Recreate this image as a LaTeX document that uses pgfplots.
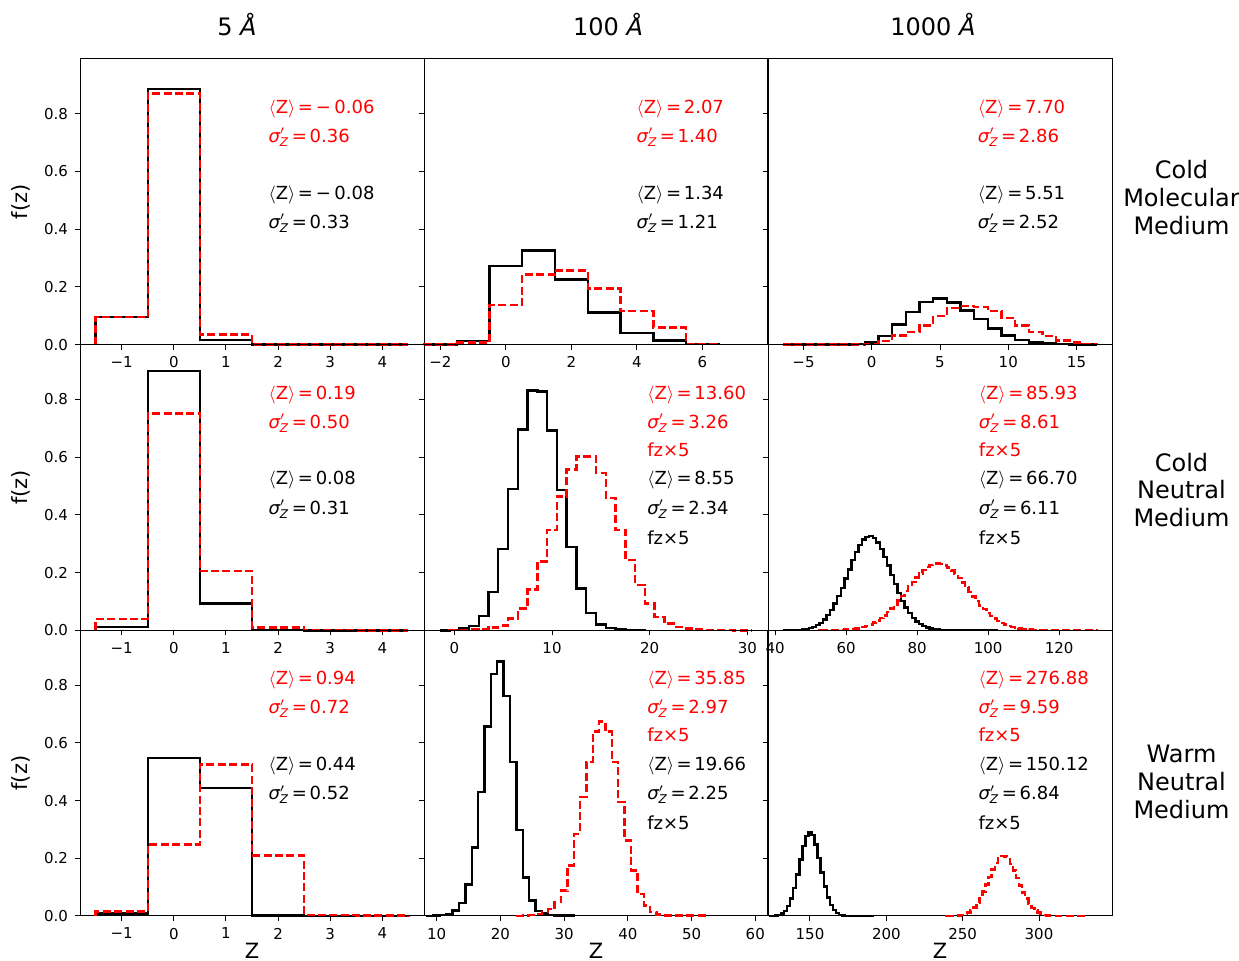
\documentclass[border=0pt]{standalone}
\usepackage{amsmath}
\usepackage{fontspec}
\setmainfont{DejaVu Sans}
\usepackage{pgfplots}
\pgfplotsset{compat=1.18}

\definecolor{mplred}{HTML}{FF0000}

\pgfplotsset{
  panel/.style={
    scale only axis, width=172pt, height=142.83pt, anchor=south west,
    ymin=0, ymax=0.99, ytick={0,0.2,0.4,0.6,0.8}, yticklabels={},
    tick align=outside, tick pos=left, major tick length=2.5pt,
    every tick/.append style={black, line width=0.5pt},
    axis line style={line width=0.5pt},
    tick label style={font=\fontsize{7.5}{9}\selectfont},
    label style={font=\fontsize{10.5}{12}\selectfont},
    xlabel style={at={(axis description cs:0.5,0)}, anchor=base, yshift=-21.5pt, inner sep=0pt},
    clip=false,
  },
  blk/.style={const plot, black, line width=1.2pt, no marks},
  rd/.style={const plot, mplred, line width=1.2pt, no marks, dash pattern=on 4pt off 1.7pt},
  firstcol/.style={yticklabels={0.0,0.2,0.4,0.6,0.8}, ylabel={f(z)},
    xmin=-1.8, xmax=4.8, xtick={-1,0,1,2,3,4}, xticklabels={−1,0,1,2,3,4}},
}
\tikzset{st/.style={anchor=base west, inner sep=0pt, font=\fontsize{9}{10}\selectfont}}
\newcommand{\eqs}{\hspace{0.15em}=\hspace{0.15em}}
\newcommand{\mz}[1]{\(\langle\)Z\(\rangle\)\eqs #1}
\newcommand{\sz}[1]{\(\textit{σ}'_{\textit{Z}}\)\eqs #1}
\newcommand{\mneg}{−\hspace{0.2em}}

\begin{document}
\begin{tikzpicture}

% ---------------- row 1: cold molecular medium ----------------
\begin{axis}[panel, firstcol, at={(40pt,308.16pt)}]
\addplot[blk] coordinates {(-1.5,0)(-1.5,0.095)(-0.5,0.887)(0.5,0.016)(1.5,0.001)(2.5,0)(3.5,0)(4.5,0)};
\addplot[rd] coordinates {(-1.5,0)(-1.5,0.095)(-0.5,0.871)(0.5,0.035)(1.5,0.001)(2.5,0)(3.5,0)(4.5,0)};
\node[st, mplred] at (rel axis cs:0.547,0.809) {\mz{\mneg 0.06}};
\node[st, mplred] at (rel axis cs:0.547,0.708) {\sz{0.36}};
\node[st] at (rel axis cs:0.547,0.509) {\mz{\mneg 0.08}};
\node[st] at (rel axis cs:0.547,0.407) {\sz{0.33}};
\end{axis}

\begin{axis}[panel, at={(212pt,308.16pt)}, xmin=-2.5, xmax=8.0,
  xtick={-2,0,2,4,6}, xticklabels={−2,0,2,4,6}]
\addplot[blk] coordinates {(-2.5,0)(-2.5,0.001)(-1.5,0.012)(-0.5,0.272)(0.5,0.327)(1.5,0.226)(2.5,0.111)(3.5,0.041)(4.5,0.014)(5.5,0.002)(6.5,0)};
\addplot[rd] coordinates {(-2.5,0)(-2.5,0.001)(-1.5,0.007)(-0.5,0.137)(0.5,0.243)(1.5,0.257)(2.5,0.195)(3.5,0.116)(4.5,0.059)(5.5,0.002)(6.5,0)};
\node[st, mplred] at (rel axis cs:0.617,0.809) {\mz{2.07}};
\node[st, mplred] at (rel axis cs:0.617,0.708) {\sz{1.40}};
\node[st] at (rel axis cs:0.617,0.509) {\mz{1.34}};
\node[st] at (rel axis cs:0.617,0.407) {\sz{1.21}};
\end{axis}

\begin{axis}[panel, at={(384pt,308.16pt)}, xmin=-7.6, xmax=17.6,
  xtick={-5,0,5,10,15}, xticklabels={−5,0,5,10,15}]
\addplot[blk] coordinates {(-6.5,0)(-1.5,0.002)(-0.5,0.008)(0.5,0.030)(1.5,0.070)(2.5,0.114)(3.5,0.147)(4.5,0.160)(5.5,0.146)(6.5,0.119)(7.5,0.088)(8.5,0.056)(9.5,0.032)(10.5,0.017)(11.5,0.008)(12.5,0.004)(13.5,0.002)(14.5,0.001)(16.5,0)};
\addplot[rd] coordinates {(-6.5,0)(-0.5,0.002)(0.5,0.012)(1.5,0.032)(2.5,0.044)(3.5,0.067)(4.5,0.100)(5.5,0.128)(6.5,0.134)(7.5,0.131)(8.5,0.116)(9.5,0.093)(10.5,0.067)(11.5,0.044)(12.5,0.029)(13.5,0.015)(14.5,0.008)(15.5,0.003)(16.5,0)};
\node[st, mplred] at (rel axis cs:0.609,0.809) {\mz{7.70}};
\node[st, mplred] at (rel axis cs:0.609,0.708) {\sz{2.86}};
\node[st] at (rel axis cs:0.609,0.509) {\mz{5.51}};
\node[st] at (rel axis cs:0.609,0.407) {\sz{2.52}};
\end{axis}

% ---------------- row 2: cold neutral medium ----------------
\begin{axis}[panel, firstcol, at={(40pt,165.33pt)}]
\addplot[blk] coordinates {(-1.5,0)(-1.5,0.012)(-0.5,0.899)(0.5,0.093)(1.5,0.002)(2.5,0)(3.5,0)(4.5,0)};
\addplot[rd] coordinates {(-1.5,0)(-1.5,0.039)(-0.5,0.752)(0.5,0.205)(1.5,0.010)(2.5,0.001)(3.5,0)(4.5,0)};
\node[st, mplred] at (rel axis cs:0.547,0.809) {\mz{0.19}};
\node[st, mplred] at (rel axis cs:0.547,0.708) {\sz{0.50}};
\node[st] at (rel axis cs:0.547,0.509) {\mz{0.08}};
\node[st] at (rel axis cs:0.547,0.407) {\sz{0.31}};
\end{axis}

\begin{axis}[panel, at={(212pt,165.33pt)}, xmin=-3.1, xmax=32.1,
  xtick={0,10,20,30}, xticklabels={0,10,20,30}]
\addplot[blk] coordinates {(-1.5,0)(-0.5,0.002)(0.5,0.007)(1.5,0.016)(2.5,0.049)(3.5,0.133)(4.5,0.281)(5.5,0.489)(6.5,0.696)(7.5,0.831)(8.5,0.827)(9.5,0.692)(10.5,0.487)(11.5,0.288)(12.5,0.145)(13.5,0.061)(14.5,0.020)(15.5,0.008)(16.5,0.004)(17.5,0.001)(18.5,0.001)(19.5,0)};
\addplot[rd] coordinates {(-0.5,0)(-0.5,0.001)(0.5,0.002)(1.5,0.003)(2.5,0.005)(3.5,0.010)(4.5,0.017)(5.5,0.041)(6.5,0.075)(7.5,0.141)(8.5,0.238)(9.5,0.348)(10.5,0.464)(11.5,0.557)(12.5,0.603)(13.5,0.603)(14.5,0.545)(15.5,0.458)(16.5,0.348)(17.5,0.243)(18.5,0.157)(19.5,0.093)(20.5,0.046)(21.5,0.023)(22.5,0.012)(23.5,0.006)(24.5,0.003)(25.5,0.002)(26.5,0.001)(27.5,0.001)(28.5,0)(30.5,0)};
\node[st, mplred] at (rel axis cs:0.648,0.809) {\mz{13.60}};
\node[st, mplred] at (rel axis cs:0.648,0.708) {\sz{3.26}};
\node[st, mplred] at (rel axis cs:0.648,0.610) {fz×5};
\node[st] at (rel axis cs:0.648,0.509) {\mz{8.55}};
\node[st] at (rel axis cs:0.648,0.407) {\sz{2.34}};
\node[st] at (rel axis cs:0.648,0.302) {fz×5};
\end{axis}

\begin{axis}[panel, at={(384pt,165.33pt)}, xmin=38, xmax=134.9,
  xtick={40,60,80,100,120}, xticklabels={40,60,80,100,120}]
\addplot[blk] coordinates {(42.5,0)(42.5,0.0002)(43.5,0.0003)(44.5,0.0006)(45.5,0.0011)(46.5,0.0018)(47.5,0.0030)(48.5,0.0049)(49.5,0.0078)(50.5,0.0120)(51.5,0.0181)(52.5,0.0264)(53.5,0.0376)(54.5,0.0522)(55.5,0.0705)(56.5,0.0926)(57.5,0.1185)(58.5,0.1476)(59.5,0.1790)(60.5,0.2113)(61.5,0.2429)(62.5,0.2718)(63.5,0.2961)(64.5,0.3141)(65.5,0.3244)(66.5,0.3261)(67.5,0.3192)(68.5,0.3042)(69.5,0.2822)(70.5,0.2549)(71.5,0.2241)(72.5,0.1919)(73.5,0.1599)(74.5,0.1297)(75.5,0.1025)(76.5,0.0788)(77.5,0.0590)(78.5,0.0430)(79.5,0.0305)(80.5,0.0211)(81.5,0.0142)(82.5,0.0093)(83.5,0.0059)(84.5,0.0037)(85.5,0.0022)(86.5,0.0013)(87.5,0.0007)(88.5,0.0004)(89.5,0.0002)(102.5,0)};
\addplot[rd] coordinates {(52.5,0)(52.5,0.0002)(53.5,0.0002)(54.5,0.0004)(55.5,0.0006)(56.5,0.0008)(57.5,0.0012)(58.5,0.0017)(59.5,0.0025)(60.5,0.0035)(61.5,0.0049)(62.5,0.0067)(63.5,0.0090)(64.5,0.0121)(65.5,0.0159)(66.5,0.0207)(67.5,0.0265)(68.5,0.0335)(69.5,0.0418)(70.5,0.0515)(71.5,0.0626)(72.5,0.0750)(73.5,0.0887)(74.5,0.1035)(75.5,0.1192)(76.5,0.1353)(77.5,0.1516)(78.5,0.1676)(79.5,0.1828)(80.5,0.1967)(81.5,0.2088)(82.5,0.2187)(83.5,0.2260)(84.5,0.2304)(85.5,0.2317)(86.5,0.2299)(87.5,0.2251)(88.5,0.2174)(89.5,0.2072)(90.5,0.1948)(91.5,0.1807)(92.5,0.1654)(93.5,0.1494)(94.5,0.1330)(95.5,0.1169)(96.5,0.1014)(97.5,0.0867)(98.5,0.0732)(99.5,0.0610)(100.5,0.0501)(101.5,0.0406)(102.5,0.0325)(103.5,0.0256)(104.5,0.0199)(105.5,0.0153)(106.5,0.0116)(107.5,0.0087)(108.5,0.0064)(109.5,0.0047)(110.5,0.0033)(111.5,0.0024)(112.5,0.0017)(113.5,0.0011)(114.5,0.0008)(115.5,0.0005)(116.5,0.0003)(117.5,0.0002)(130.5,0)};
\node[st, mplred] at (rel axis cs:0.612,0.809) {\mz{85.93}};
\node[st, mplred] at (rel axis cs:0.612,0.708) {\sz{8.61}};
\node[st, mplred] at (rel axis cs:0.612,0.610) {fz×5};
\node[st] at (rel axis cs:0.612,0.509) {\mz{66.70}};
\node[st] at (rel axis cs:0.612,0.407) {\sz{6.11}};
\node[st] at (rel axis cs:0.612,0.302) {fz×5};
\end{axis}

% ---------------- row 3: warm neutral medium ----------------
\begin{axis}[panel, firstcol, at={(40pt,22.5pt)}, xlabel={Z}]
\addplot[blk] coordinates {(-1.5,0)(-1.5,0.008)(-0.5,0.548)(0.5,0.444)(1.5,0.002)(2.5,0)(3.5,0)(4.5,0)};
\addplot[rd] coordinates {(-1.5,0)(-1.5,0.015)(-0.5,0.248)(0.5,0.525)(1.5,0.210)(2.5,0.003)(3.5,0.001)(4.5,0)};
\node[st, mplred] at (rel axis cs:0.547,0.809) {\mz{0.94}};
\node[st, mplred] at (rel axis cs:0.547,0.708) {\sz{0.72}};
\node[st] at (rel axis cs:0.547,0.509) {\mz{0.44}};
\node[st] at (rel axis cs:0.547,0.407) {\sz{0.52}};
\end{axis}

\begin{axis}[panel, at={(212pt,22.5pt)}, xlabel={Z}, xmin=8, xmax=62,
  xtick={10,20,30,40,50,60}, xticklabels={10,20,30,40,50,60}]
\addplot[blk] coordinates {(8.5,0)(8.5,0.0005)(9.5,0.001)(10.5,0.003)(11.5,0.007)(12.5,0.019)(13.5,0.044)(14.5,0.109)(15.5,0.237)(16.5,0.430)(17.5,0.656)(18.5,0.838)(19.5,0.882)(20.5,0.763)(21.5,0.534)(22.5,0.299)(23.5,0.134)(24.5,0.053)(25.5,0.018)(26.5,0.008)(27.5,0.003)(28.5,0.001)(29.5,0.001)(31.5,0)};
\addplot[rd] coordinates {(22.5,0)(23.5,0.001)(24.5,0.003)(25.5,0.006)(26.5,0.013)(27.5,0.024)(28.5,0.048)(29.5,0.088)(30.5,0.175)(31.5,0.285)(32.5,0.413)(33.5,0.534)(34.5,0.639)(35.5,0.674)(36.5,0.639)(37.5,0.534)(38.5,0.395)(39.5,0.262)(40.5,0.158)(41.5,0.077)(42.5,0.036)(43.5,0.013)(44.5,0.005)(45.5,0.002)(46.5,0.001)(52.5,0)};
\node[st, mplred] at (rel axis cs:0.648,0.809) {\mz{35.85}};
\node[st, mplred] at (rel axis cs:0.648,0.708) {\sz{2.97}};
\node[st, mplred] at (rel axis cs:0.648,0.610) {fz×5};
\node[st] at (rel axis cs:0.648,0.509) {\mz{19.66}};
\node[st] at (rel axis cs:0.648,0.407) {\sz{2.25}};
\node[st] at (rel axis cs:0.648,0.302) {fz×5};
\end{axis}

\begin{axis}[panel, at={(384pt,22.5pt)}, xlabel={Z}, xmin=122.5, xmax=347.8,
  xtick={150,200,250,300}, xticklabels={150,200,250,300}]
\addplot[blk] coordinates {(123,0)(125,0.0006)(127,0.0016)(129,0.0039)(131,0.0087)(133,0.0181)(135,0.0346)(137,0.0607)(139,0.0976)(141,0.1441)(143,0.1954)(145,0.2432)(147,0.2779)(149,0.2916)(151,0.2808)(153,0.2483)(155,0.2015)(157,0.1502)(159,0.1027)(161,0.0645)(163,0.0372)(165,0.0197)(167,0.0096)(169,0.0043)(171,0.0017)(173,0.0007)(175,0.0002)(191,0)};
\addplot[rd] coordinates {(239,0)(239,0.0001)(241,0.0003)(243,0.0006)(245,0.0012)(247,0.0022)(249,0.0041)(251,0.0072)(253,0.0121)(255,0.0194)(257,0.0299)(259,0.0442)(261,0.0624)(263,0.0844)(265,0.1093)(267,0.1355)(269,0.1608)(271,0.1827)(273,0.1988)(275,0.2071)(277,0.2066)(279,0.1973)(281,0.1804)(283,0.1579)(285,0.1323)(287,0.1062)(289,0.0816)(291,0.0600)(293,0.0423)(295,0.0285)(297,0.0184)(299,0.0114)(301,0.0067)(303,0.0038)(305,0.0021)(307,0.0011)(309,0.0005)(311,0.0002)(329,0)};
\node[st, mplred] at (rel axis cs:0.611,0.809) {\mz{276.88}};
\node[st, mplred] at (rel axis cs:0.611,0.708) {\sz{9.59}};
\node[st, mplred] at (rel axis cs:0.611,0.610) {fz×5};
\node[st] at (rel axis cs:0.611,0.509) {\mz{150.12}};
\node[st] at (rel axis cs:0.611,0.407) {\sz{6.84}};
\node[st] at (rel axis cs:0.611,0.302) {fz×5};
\end{axis}

% column titles and row labels
\begin{scope}[every node/.style={font=\fontsize{12}{13.8}\selectfont, align=center}]
\node at (118.5pt,468pt) {5 \textit{Å}};
\node at (304pt,468pt) {100 \textit{Å}};
\node at (466.5pt,468pt) {1000 \textit{Å}};
\node at (590.75pt,381.75pt) {Cold\\Molecular\\Medium};
\node at (590.75pt,235.6pt) {Cold\\Neutral\\Medium};
\node at (590.75pt,89.5pt) {Warm\\Neutral\\Medium};
\end{scope}

\pgfresetboundingbox
\useasboundingbox (0,0) rectangle (619.5pt,480.5pt);
\end{tikzpicture}
\end{document}
